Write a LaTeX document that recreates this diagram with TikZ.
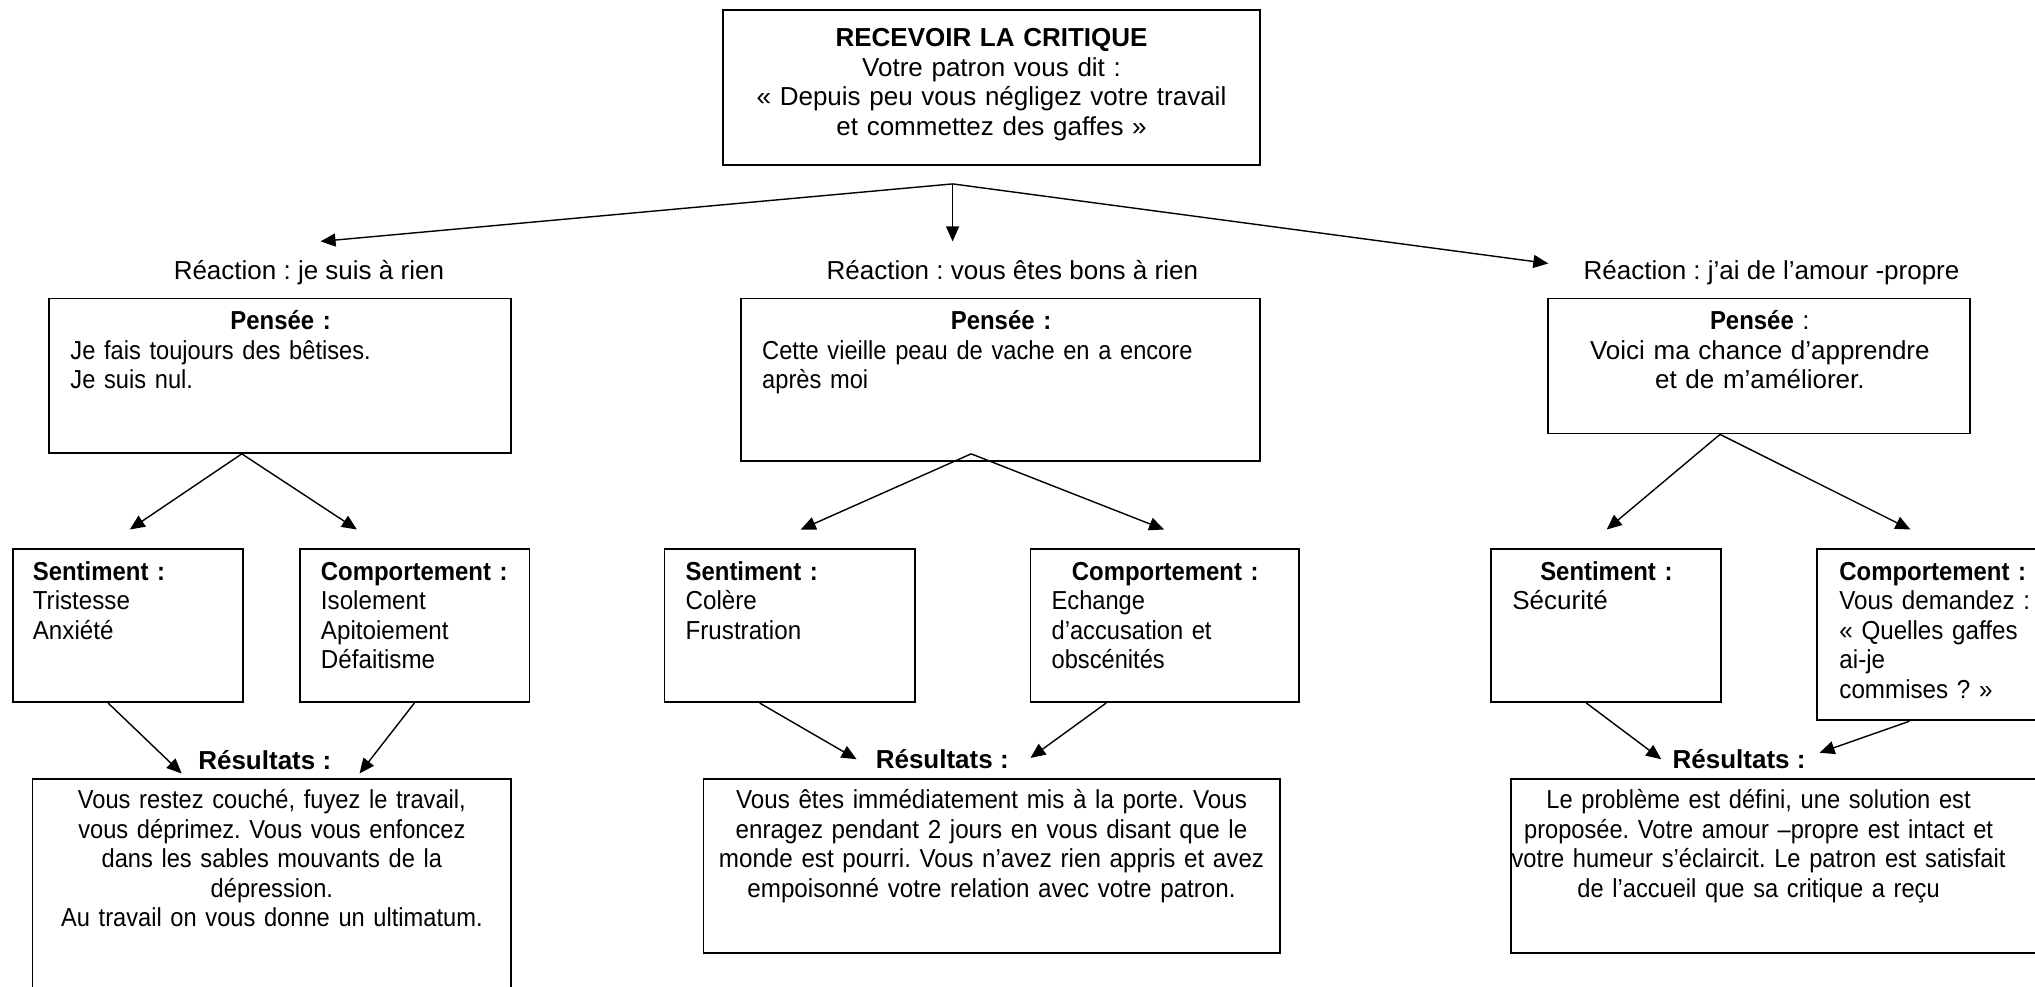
\documentclass[tikz,border=0pt]{standalone}
\usepackage{fontspec}
\setmainfont{Liberation Sans}
\newfontfamily\sqA{Liberation Sans}[FakeStretch=0.91]
\newfontfamily\sqB{Liberation Sans}[FakeStretch=0.93]
\newfontfamily\sqH{Liberation Sans}[FakeStretch=0.92]
\usetikzlibrary{arrows.meta,fit,calc}
\newcommand{\hdr}[1]{{\sqH\bfseries #1}}
\begin{document}
\frenchspacing
\begin{tikzpicture}[x=0.6489pt,y=-0.6489pt,
  bx/.style={draw, line width=0.9pt, inner sep=0pt},
  txt/.style={inner sep=0pt, font=\fontsize{13}{14.75}\selectfont},
  txtA/.style={inner sep=0pt, font=\sqA\fontsize{13}{14.75}\selectfont},
  txtB/.style={inner sep=0pt, font=\sqB\fontsize{13}{14.75}\selectfont},
  arr/.style={-{Triangle[length=7.5pt,width=6.5pt]}, line width=0.7pt}]
\useasboundingbox (0,0) rectangle (1568,760);
\clip (0,0) rectangle (1568,760);
% top
\node[bx, fit={(557,8)(971,127)}] (top) {};
\node[txt, anchor=base, text width=300pt, align=center] (toptxt) at (764,36)
 {\textbf{RECEVOIR LA CRITIQUE}\\Votre patron vous dit :\\«~Depuis peu vous négligez votre travail\\et commettez des gaffes~»};
% reactions
\node[txt, anchor=base] (r1) at (238,215) {Réaction : je suis à rien};
\node[txt, anchor=base] (r2) at (780,215) {Réaction : vous êtes bons à rien};
\node[txt, anchor=base] (r3) at (1365,215) {Réaction : j’ai de l’amour -propre};
\coordinate (tb) at ($(top.south)+(-30,14)$);
\coordinate (t1) at (247,186);
\coordinate (t2) at (734,186);
\coordinate (t3) at (1193,203);
\draw[arr] (tb) -- (t1);
\draw[arr] (tb) -- (t2);
\draw[arr] (tb) -- (t3);
% pensee boxes
\node[bx, fit={(38,230)(394,349)}] (p1) {};
\node[txtA, anchor=base west, text width=210.2pt, align=left] (p1t) at (54,254)
 {\makebox[\linewidth]{\hdr{Pensée :}}\\Je fais toujours des bêtises.\\Je suis nul.};
\node[bx, fit={(571,230)(971,355)}] (p2) {};
\node[txtA, anchor=base west, text width=238.8pt, align=left] (p2t) at (587,254)
 {\makebox[\linewidth]{\hdr{Pensée :}}\\Cette vieille peau de vache en a encore\\après moi};
\node[bx, fit={(1193,230)(1518,334)}] (p3) {};
\node[txt, anchor=base, text width=250pt, align=center] (p3t) at (1356,254)
 {\hdr{Pensée} :\\Voici ma chance d’apprendre\\et de m’améliorer.};
% sentiment / comportement
\node[bx, fit={(10,423)(187,541)}] (s1) {};
\node[txtB, anchor=base west, text width=110pt, align=left] (s1t) at (25,447)
 {\hdr{Sentiment :}\\Tristesse\\Anxiété};
\node[bx, fit={(231,423)(408,541)}] (c1) {};
\node[txtB, anchor=base west, text width=110pt, align=left] (c1t) at (247,447)
 {\hdr{Comportement :}\\Isolement\\Apitoiement\\Défaitisme};
\node[bx, fit={(512,423)(705,541)}] (s2) {};
\node[txtB, anchor=base west, text width=110pt, align=left] (s2t) at (528,447)
 {\hdr{Sentiment :}\\Colère\\Frustration};
\node[bx, fit={(794,423)(1001,541)}] (c2) {};
\node[txtA, anchor=base west, text width=113.6pt, align=left] (c2t) at (810,447)
 {\makebox[\linewidth]{\hdr{Comportement :}}\\Echange\\d’accusation et\\obscénités};
\node[bx, fit={(1149,423)(1326,541)}] (s3) {};
\node[txt, anchor=base west, text width=94pt, align=left] (s3t) at (1165,447)
 {\makebox[\linewidth]{\hdr{Sentiment :}}\\Sécurité};
\node[bx, fit={(1400,423)(1590,555)}] (c3) {};
\node[txtB, anchor=base west, text width=110pt, align=left] (c3t) at (1417,447)
 {\hdr{Comportement :}\\Vous demandez :\\«~Quelles gaffes\\ai-je\\commises ?~»};
% arrows from pensee
\coordinate (p1s) at ($(p1.south west)+(149,0)$);
\coordinate (p2s) at ($(p2.south west)+(178,-6)$);
\coordinate (p3s) at ($(p3.south west)+(133,0)$);
\coordinate (a1) at (100,408);
\coordinate (a2) at (275,408);
\coordinate (a3) at (617,408);
\coordinate (a4) at (897,408);
\coordinate (a5) at (1238,408);
\coordinate (a6) at (1472,408);
\draw[arr] (p1s) -- (a1);
\draw[arr] (p1s) -- (a2);
\draw[arr] (p2s) -- (a3);
\draw[arr] (p2s) -- (a4);
\draw[arr] (p3s) -- (a5);
\draw[arr] (p3s) -- (a6);
% resultats labels
\node[txt, anchor=base] (res1) at (204,593) {\textbf{Résultats :}};
\node[txt, anchor=base] (res2) at (726,592) {\textbf{Résultats :}};
\node[txt, anchor=base] (res3) at (1340,592) {\textbf{Résultats :}};
% arrows to resultats
\coordinate (b1) at (140,596);
\coordinate (b2) at (277,596);
\coordinate (b3) at (660,585);
\coordinate (b4) at (794,584);
\coordinate (b5) at (1280,585);
\coordinate (b6) at (1402,580);
\draw[arr] ($(s1.south west)+(74,0)$) -- (b1);
\draw[arr] ($(c1.south west)+(89,0)$) -- (b2);
\draw[arr] ($(s2.south west)+(74,0)$) -- (b3);
\draw[arr] ($(c2.south west)+(59,0)$) -- (b4);
\draw[arr] ($(s3.south west)+(74,0)$) -- (b5);
\draw[arr] ($(c3.south west)+(72,0)$) -- (b6);
% result boxes
\node[bx, fit={(25,600)(394,775)}] (o1) {};
\node[txtA, anchor=base, text width=300pt, align=center] (o1t) at (209.5,623)
 {Vous restez couché, fuyez le travail,\\vous déprimez. Vous vous enfoncez\\dans les sables mouvants de la\\dépression.\\Au travail on vous donne un ultimatum.};
\node[bx, fit={(542,600)(986,734)}] (o2) {};
\node[txtB, anchor=base, text width=320pt, align=center] (o2t) at (764,623)
 {Vous êtes immédiatement mis à la porte. Vous\\enragez pendant 2 jours en vous disant que le\\monde est pourri. Vous n’avez rien appris et avez\\empoisonné votre relation avec votre patron.};
\node[bx, fit={(1164,600)(1590,734)}] (o3) {};
\node[txtA, anchor=base, text width=320pt, align=center] (o3t) at (1355,623)
 {Le problème est défini, une solution est\\proposée. Votre amour –propre est intact et\\votre humeur s’éclaircit. Le patron est satisfait\\de l’accueil que sa critique a reçu};
\end{tikzpicture}
\end{document}
